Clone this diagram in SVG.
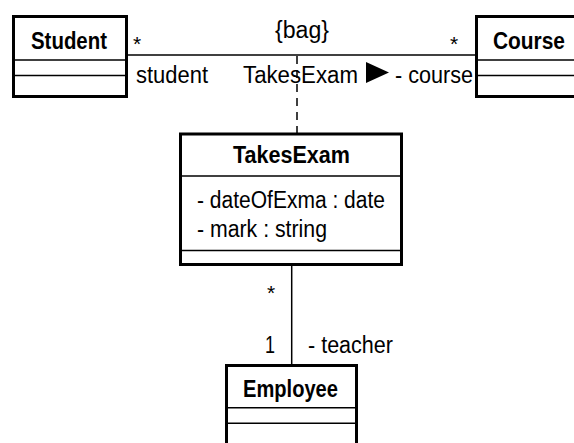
<svg xmlns="http://www.w3.org/2000/svg" width="574" height="443" viewBox="0 0 574 443">
<style>
.box{fill:#fff;stroke:#000;stroke-width:3}
.sep{stroke:#000;stroke-width:1.5}
.ln{stroke:#000;stroke-width:1.5;fill:none}
.t{font-family:"Liberation Sans",Arial,sans-serif;font-size:23px;fill:#000}
.s{font-family:"Liberation Sans",Arial,sans-serif;font-size:21px;fill:#000}
.b{font-family:"Liberation Sans",Arial,sans-serif;font-size:23.5px;font-weight:bold;fill:#000}
</style>
<rect width="574" height="443" fill="#fff"/>
<g id="connectors">
<line class="ln" x1="127" y1="55" x2="476" y2="55"/>
<line class="ln" x1="297" y1="56" x2="297" y2="133" stroke-dasharray="8 6"/>
<line class="ln" x1="291.7" y1="266" x2="291.7" y2="364"/>
<text class="s" x="133" y="50.5">*</text>
<text class="s" x="450" y="50.5">*</text>
<text class="t" x="275" y="38" textLength="54" lengthAdjust="spacingAndGlyphs">{bag}</text>
<text class="t" x="136" y="83" textLength="72" lengthAdjust="spacingAndGlyphs">student</text>
<text class="t" x="243" y="83" textLength="115" lengthAdjust="spacingAndGlyphs">TakesExam</text>
<polygon points="366,62 389,72.5 366,83" fill="#000"/>
<text class="t" x="395" y="83" textLength="78" lengthAdjust="spacingAndGlyphs">- course</text>
<text class="s" x="267" y="300">*</text>
<text class="t" x="265" y="353" textLength="10" lengthAdjust="spacingAndGlyphs">1</text>
<text class="t" x="308" y="353" textLength="85" lengthAdjust="spacingAndGlyphs">- teacher</text>
</g>
<g id="Student">
<rect class="box" x="13.5" y="16.5" width="113" height="80"/>
<line class="sep" x1="13.5" y1="60" x2="126.5" y2="60"/>
<line class="sep" x1="13.5" y1="75.5" x2="126.5" y2="75.5"/>
<text class="b" x="69" y="49" text-anchor="middle" textLength="76" lengthAdjust="spacingAndGlyphs">Student</text>
</g>
<g id="Course">
<rect class="box" x="476.5" y="16.5" width="110" height="80"/>
<line class="sep" x1="476.5" y1="60" x2="586" y2="60"/>
<line class="sep" x1="476.5" y1="75.5" x2="586" y2="75.5"/>
<text class="b" x="493" y="49" textLength="72" lengthAdjust="spacingAndGlyphs">Course</text>
</g>
<g id="TakesExam">
<rect class="box" x="180.5" y="134" width="221" height="130.5"/>
<line class="sep" x1="180.5" y1="176" x2="401.5" y2="176"/>
<line class="sep" x1="180.5" y1="250.5" x2="401.5" y2="250.5"/>
<text class="b" x="291.5" y="163" text-anchor="middle" textLength="117" lengthAdjust="spacingAndGlyphs">TakesExam</text>
<text class="t" x="197" y="208" textLength="188" lengthAdjust="spacingAndGlyphs">- dateOfExma : date</text>
<text class="t" x="197" y="237" textLength="130" lengthAdjust="spacingAndGlyphs">- mark : string</text>
</g>
<g id="Employee">
<rect class="box" x="226.5" y="365.5" width="130" height="100"/>
<line class="sep" x1="226.5" y1="407.7" x2="356.5" y2="407.7"/>
<line class="sep" x1="226.5" y1="423.3" x2="356.5" y2="423.3"/>
<text class="b" x="290.5" y="397" text-anchor="middle" textLength="95" lengthAdjust="spacingAndGlyphs">Employee</text>
</g>
</svg>
